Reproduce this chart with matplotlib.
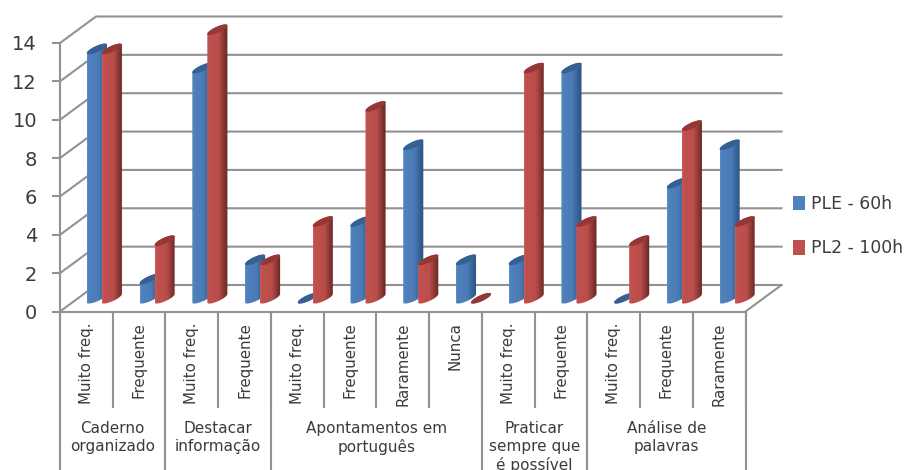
import numpy as np
import matplotlib
matplotlib.use("Agg")
import matplotlib.pyplot as plt
from matplotlib.colors import LinearSegmentedColormap
from matplotlib.patches import Polygon, Patch

sub_labels = ["Muito freq.", "Frequente", "Muito freq.", "Frequente", "Muito freq.", "Frequente",
              "Raramente", "Nunca", "Muito freq.", "Frequente", "Muito freq.", "Frequente", "Raramente"]
group_labels = ["Caderno\norganizado", "Destacar\ninformação", "Apontamentos em\nportuguês",
                "Praticar\nsempre que\né possível", "Análise de\npalavras"]
group_sizes = [2, 2, 4, 2, 3]
ple_60h = [13, 1, 12, 2, 0, 4, 8, 2, 2, 12, 0, 6, 8]
pl2_100h = [13, 3, 14, 2, 4, 10, 2, 0, 12, 4, 3, 9, 4]
series_names = ["PLE - 60h", "PL2 - 100h"]
y_ticks = list(range(0, 15, 2))

W, H = 906, 470
GRID = "#929292"
TEXT = "#3c3c3c"
plt.rcParams["font.family"] = ["DejaVu Sans"]

fig = plt.figure(figsize=(W / 100, H / 100), dpi=100, facecolor="white")
L, R, T, B = 60, 745.5, 43, 311.5
ax = fig.add_axes([L / W, 1 - B / H, (R - L) / W, (B - T) / H])
n = len(sub_labels)
ax.set_xlim(-0.5, n - 0.5)
ax.set_ylim(0, 14)
ax.patch.set_visible(False)
px = (R - L) / n      # pixels per category
py = (B - T) / 14     # pixels per value unit
dx, dy = 36 / px, 26.5 / py  # depth offset of the back wall

for s in ("top", "right"):
    ax.spines[s].set_visible(False)
for s in ("left", "bottom"):
    ax.spines[s].set_color(GRID)
    ax.spines[s].set_linewidth(1.5)
ax.set_yticks(y_ticks)
ax.set_yticklabels(y_ticks, fontsize=14, color=TEXT)
ax.tick_params(axis="y", color=GRID, width=1.5, length=6, pad=10.5)
ax.set_xticks(range(n))
ax.set_xticklabels(sub_labels, rotation=90, fontsize=10.8, color=TEXT, va="top", ha="center")
ax.tick_params(axis="x", length=0, pad=8)

# walls and floor
x0, x1 = -0.5, n - 0.5
for v in y_ticks:
    ax.plot([x0, x0 + dx, x1 + dx], [v, v + dy, v + dy], color=GRID, lw=1.5, clip_on=False, zorder=1,
            solid_joinstyle="miter")
ax.plot([x1, x1 + dx], [0, dy], color=GRID, lw=1.5, clip_on=False, zorder=1)

# multi-level axis separators
ax.vlines(np.arange(n + 1) - 0.5, -5.05, 0, color=GRID, lw=1.5, clip_on=False)
edges = np.concatenate([[0], np.cumsum(group_sizes)]) - 0.5
ax.vlines(edges, -8.5, 0, color=GRID, lw=1.5, clip_on=False)
for g, lab in enumerate(group_labels):
    ax.text((edges[g] + edges[g + 1]) / 2, -5.72, lab, ha="center", va="top", fontsize=11,
            color=TEXT, linespacing=1.24, clip_on=False)

# cylinders
ax_x, ax_y, bx_x, bx_y = 10 / px, 4.5 / py, -1 / px, 2.8 / py
t0 = np.arctan2(bx_x, ax_x)


def ell(cx, cy, t):
    return (cx + ax_x * np.cos(t) + bx_x * np.sin(t), cy + ax_y * np.cos(t) + bx_y * np.sin(t))


cmaps = [LinearSegmentedColormap.from_list("b", [(0, "#5b8dc8"), (0.08, "#4f81bd"), (0.55, "#4a7bb6"), (1, "#265080")]),
         LinearSegmentedColormap.from_list("r", [(0, "#cc5d5a"), (0.08, "#c0504d"), (0.55, "#ba4e4b"), (1, "#642523")])]
tops = ["#376092", "#953735"]
shift = 7.5 / px
grad = np.linspace(0, 1, 64).reshape(1, -1)
floor_y = dy / 2
z = 3
for i in range(n):
    for k, vals in enumerate((ple_60h, pl2_100h)):
        cx = i + dx / 2 + (-shift if k == 0 else shift)
        cy = floor_y + vals[i]
        z += 1
        all_t = np.linspace(t0, t0 + 2 * np.pi, 121)
        upper = np.linspace(t0, t0 + np.pi, 60)
        lower = upper + np.pi
        if ell(0, 0, upper)[1].mean() < 0:
            upper, lower = lower, upper
        xt, yt = ell(cx, cy, upper)
        xb, yb = ell(cx, floor_y, lower)
        poly = np.column_stack([np.concatenate([xt, xb]), np.concatenate([yt, yb])])
        patch = Polygon(poly, closed=True, transform=ax.transData, fc="none", ec="none")
        ax.add_patch(patch)
        patch.set_clip_on(False)
        w = np.hypot(ax_x, bx_x)
        im = ax.imshow(grad, extent=[cx - w, cx + w, floor_y - 1, cy + 1], aspect="auto",
                       cmap=cmaps[k], interpolation="bilinear", zorder=z)
        im.set_clip_path(patch)
        im.set_clip_box(fig.bbox)
        ex, ey = ell(cx, cy, all_t)
        ax.fill(ex, ey, color=tops[k], lw=0, zorder=z + 0.5, clip_on=False)
ax.set_xlim(-0.5, n - 0.5)
ax.set_ylim(0, 14)

handles = [Patch(fc="#4f81bd", ec="none"), Patch(fc="#c0504d", ec="none")]
fig.legend(handles, series_names, loc="center left", bbox_to_anchor=(786 / W, 1 - 226 / H), frameon=False,
           fontsize=12.4, labelcolor=TEXT, handlelength=0.7, handleheight=0.9, handletextpad=0.35,
           labelspacing=1.55, borderpad=0, borderaxespad=0.4)

fig.savefig("out.png", dpi=100, facecolor="white")
